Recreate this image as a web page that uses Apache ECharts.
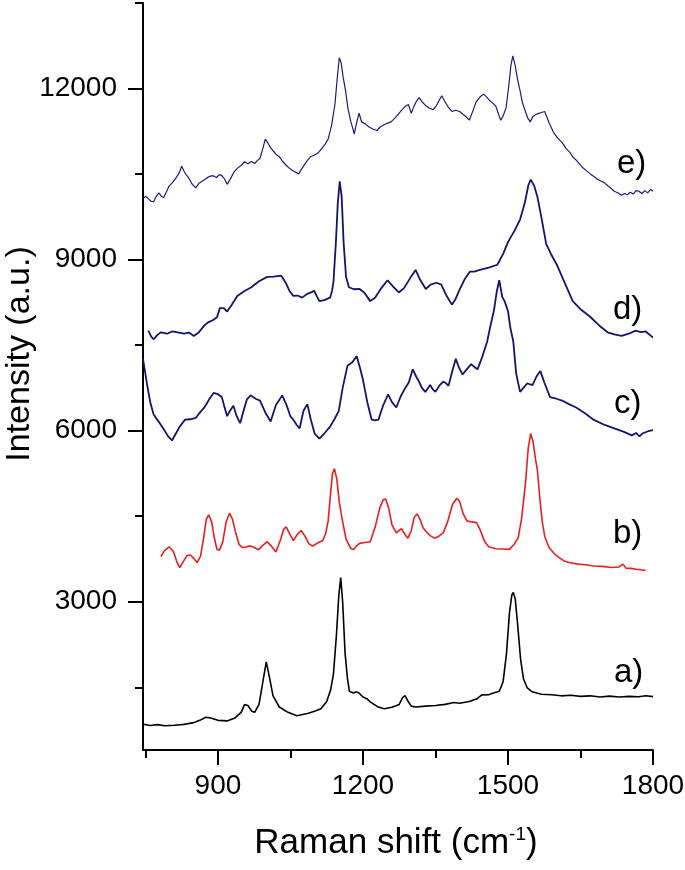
<!DOCTYPE html>
<html>
<head>
<meta charset="utf-8">
<script src="https://cdn.jsdelivr.net/npm/echarts@6/dist/echarts.min.js"></script>
<style>
html,body{margin:0;padding:0;background:#fff;}
#main{width:685px;height:870px;}
</style>
</head>
<body>
<div id="main"></div>
<script>
// ---- Data (Raman shift cm^-1, intensity a.u.) ----
var xMajorTicks = [900, 1200, 1500, 1800];
var xMinorTicks = [750, 1050, 1350, 1650];
var yMajorTicks = [3000, 6000, 9000, 12000];
var yMinorTicks = [1500, 4500, 7500, 10500, 13500];
var seriesNames = ['a)', 'b)', 'c)', 'd)', 'e)'];

var specA = [
  [745, 851], [760, 830], [775, 845], [790, 825], [810, 833], [830, 850], [850, 880], [865, 930],
  [875, 973], [885, 960], [900, 920], [919, 910], [935, 960], [948, 1060], [955, 1196], [962, 1180],
  [970, 1080], [976, 1060], [985, 1200], [993, 1600], [1000, 1945], [1006, 1700], [1014, 1350],
  [1027, 1154], [1045, 1060], [1063, 1001], [1085, 1040], [1100, 1080], [1113, 1122], [1125, 1250],
  [1133, 1450], [1139, 1732], [1145, 2400], [1150, 3100], [1154, 3425], [1158, 3000], [1163, 2100],
  [1168, 1650], [1172, 1429], [1180, 1400], [1187, 1420], [1192, 1397], [1200, 1330], [1208, 1300],
  [1215, 1245], [1230, 1160], [1244, 1122], [1260, 1150], [1275, 1200], [1282, 1320], [1287, 1353],
  [1293, 1260], [1300, 1170], [1309, 1154], [1330, 1170], [1350, 1180], [1370, 1200], [1388, 1233],
  [1400, 1220], [1420, 1250], [1436, 1300], [1446, 1366], [1460, 1370], [1470, 1400], [1482, 1429],
  [1490, 1600], [1497, 2100], [1503, 2800], [1508, 3120], [1511, 3162], [1515, 3050], [1520, 2600],
  [1526, 2000], [1532, 1650], [1540, 1488], [1550, 1420], [1569, 1378], [1590, 1370], [1610, 1350],
  [1630, 1360], [1650, 1340], [1670, 1350], [1690, 1330], [1710, 1345], [1730, 1330], [1750, 1340],
  [1770, 1335], [1785, 1350], [1800, 1336]
];

var specB = [
  [782, 3793], [790, 3900], [799, 3963], [808, 3880], [815, 3700], [821, 3597], [828, 3700],
  [836, 3810], [843, 3820], [850, 3760], [857, 3688], [864, 3800], [870, 4100], [876, 4450],
  [881, 4523], [887, 4400], [893, 4100], [898, 3920], [903, 3901], [910, 4050], [917, 4400],
  [924, 4553], [930, 4450], [937, 4200], [944, 4000], [951, 3950], [958, 3960], [966, 3980],
  [975, 3950], [984, 3913], [993, 3990], [1002, 4053], [1010, 3980], [1020, 3871], [1030, 4100],
  [1036, 4270], [1041, 4314], [1048, 4200], [1056, 4073], [1064, 4180], [1072, 4248], [1080, 4150],
  [1088, 4020], [1096, 3975], [1106, 4030], [1117, 4073], [1123, 4200], [1128, 4418], [1133, 4900],
  [1137, 5250], [1141, 5334], [1146, 5150], [1151, 4750], [1157, 4449], [1165, 4100], [1175, 3933],
  [1181, 3917], [1187, 3980], [1193, 4024], [1204, 4040], [1215, 4053], [1225, 4300], [1235, 4650],
  [1242, 4790], [1247, 4801], [1253, 4650], [1260, 4350], [1269, 4206], [1275, 4250], [1280, 4280],
  [1287, 4180], [1293, 4115], [1300, 4250], [1306, 4480], [1312, 4540], [1318, 4450], [1324, 4300],
  [1330, 4236], [1339, 4160], [1348, 4115], [1357, 4150], [1366, 4206], [1375, 4400], [1385, 4700],
  [1394, 4814], [1400, 4760], [1407, 4550], [1415, 4418], [1425, 4400], [1435, 4388], [1443, 4250],
  [1452, 4050], [1460, 3963], [1475, 3930], [1490, 3925], [1503, 3919], [1512, 4000], [1521, 4115],
  [1528, 4450], [1536, 5057], [1542, 5700], [1547, 5950], [1552, 5800], [1557, 5500], [1561, 5300],
  [1566, 4800], [1571, 4400], [1576, 4145], [1585, 3950], [1595, 3850], [1605, 3779], [1615, 3720],
  [1626, 3688], [1645, 3660], [1660, 3650], [1677, 3628], [1695, 3620], [1715, 3600], [1730, 3610],
  [1738, 3660], [1744, 3590], [1755, 3585], [1765, 3570], [1775, 3560], [1785, 3548]
];

var specC = [
  [745, 7260], [749, 7050], [753, 6832], [760, 6500], [767, 6284], [778, 6150], [789, 6011],
  [797, 5900], [805, 5828], [813, 5950], [821, 6071], [832, 6193], [843, 6200], [854, 6223],
  [863, 6320], [872, 6407], [882, 6550], [891, 6661], [900, 6640], [908, 6589], [914, 6400],
  [919, 6255], [925, 6350], [932, 6437], [939, 6250], [946, 6132], [953, 6350], [960, 6550],
  [968, 6619], [978, 6560], [987, 6528], [998, 6320], [1009, 6162], [1020, 6450], [1033, 6619],
  [1042, 6450], [1050, 6250], [1056, 6193], [1063, 6100], [1069, 6041], [1077, 6350], [1085, 6466],
  [1092, 6200], [1100, 5950], [1110, 5859], [1120, 5950], [1132, 6071], [1141, 6200], [1150, 6346],
  [1158, 6750], [1168, 7137], [1178, 7200], [1187, 7307], [1194, 7100], [1200, 6892], [1209, 6500],
  [1218, 6193], [1225, 6180], [1232, 6193], [1242, 6450], [1252, 6638], [1260, 6500], [1269, 6407],
  [1278, 6600], [1287, 6741], [1295, 6850], [1303, 7076], [1310, 6950], [1316, 6862], [1322, 6750],
  [1329, 6680], [1339, 6801], [1345, 6720], [1350, 6680], [1358, 6790], [1366, 6862], [1372, 6830],
  [1377, 6786], [1385, 7050], [1392, 7260], [1399, 7100], [1406, 6985], [1415, 7080], [1424, 7167],
  [1430, 7120], [1437, 7076], [1447, 7300], [1457, 7563], [1464, 7850], [1471, 8110], [1477, 8450],
  [1482, 8638], [1488, 8350], [1493, 8272], [1500, 8100], [1505, 7800], [1511, 7563], [1517, 7000],
  [1525, 6680], [1532, 6750], [1540, 6832], [1546, 6810], [1551, 6801], [1559, 6950], [1567, 7045],
  [1575, 6850], [1587, 6589], [1600, 6560], [1612, 6528], [1625, 6470], [1641, 6407], [1660, 6300],
  [1677, 6193], [1700, 6100], [1720, 6041], [1740, 5980], [1756, 5918], [1765, 5960], [1772, 5900],
  [1778, 5950], [1790, 5990], [1800, 6011]
];

var specD = [
  [756, 7755], [762, 7650], [767, 7603], [775, 7680], [782, 7725], [795, 7700], [805, 7740],
  [817, 7725], [830, 7700], [840, 7720], [850, 7662], [860, 7720], [872, 7846], [880, 7900],
  [890, 7941], [898, 7990], [904, 8149], [912, 8150], [919, 8088], [928, 8200], [940, 8363],
  [955, 8450], [969, 8515], [985, 8620], [1002, 8697], [1015, 8700], [1031, 8718], [1040, 8600],
  [1048, 8450], [1056, 8363], [1065, 8370], [1074, 8333], [1085, 8400], [1094, 8430], [1099, 8454],
  [1105, 8350], [1110, 8272], [1120, 8290], [1132, 8333], [1136, 8450], [1139, 8608], [1144, 9300],
  [1148, 10000], [1152, 10371], [1156, 10100], [1160, 9300], [1165, 8700], [1171, 8515], [1181, 8480],
  [1193, 8485], [1203, 8420], [1215, 8272], [1225, 8330], [1238, 8500], [1251, 8638], [1262, 8530],
  [1274, 8424], [1285, 8500], [1298, 8680], [1309, 8818], [1318, 8650], [1330, 8485], [1340, 8560],
  [1352, 8594], [1362, 8560], [1372, 8380], [1384, 8210], [1391, 8300], [1399, 8454], [1410, 8650],
  [1421, 8788], [1430, 8790], [1442, 8818], [1460, 8860], [1478, 8910], [1490, 9100], [1500, 9306],
  [1513, 9500], [1525, 9702], [1535, 10000], [1542, 10300], [1547, 10402], [1554, 10300],
  [1561, 10096], [1570, 9700], [1579, 9277], [1590, 9080], [1601, 8910], [1617, 8600], [1634, 8272],
  [1650, 8130], [1670, 7998], [1688, 7850], [1706, 7725], [1720, 7690], [1735, 7662], [1750, 7700],
  [1764, 7755], [1775, 7730], [1785, 7740], [1800, 7632]
];

var specE = [
  [745, 10077], [751, 10110], [757, 10060], [762, 10020], [767, 10016], [773, 10120], [778, 10170],
  [783, 10110], [788, 10090], [794, 10200], [799, 10289], [806, 10350], [814, 10441], [820, 10520],
  [825, 10637], [830, 10550], [835, 10480], [839, 10441], [846, 10330], [854, 10259], [861, 10340],
  [868, 10380], [875, 10420], [883, 10460], [890, 10472], [897, 10440], [903, 10490], [908, 10472],
  [914, 10410], [919, 10320], [926, 10420], [933, 10533], [940, 10600], [948, 10650], [955, 10716],
  [962, 10680], [969, 10720], [976, 10685], [982, 10740], [987, 10776], [993, 10950], [998, 11112],
  [1003, 11050], [1009, 10959], [1015, 10900], [1021, 10840], [1027, 10807], [1034, 10720],
  [1041, 10655], [1048, 10600], [1055, 10560], [1061, 10530], [1067, 10503], [1074, 10600],
  [1080, 10680], [1086, 10750], [1092, 10807], [1099, 10830], [1107, 10868], [1115, 10950],
  [1122, 11030], [1128, 11112], [1135, 11350], [1142, 11720], [1147, 12200], [1151, 12541],
  [1155, 12450], [1159, 12200], [1164, 11963], [1169, 11650], [1175, 11415], [1179, 11300],
  [1182, 11203], [1187, 11400], [1192, 11567], [1197, 11415], [1205, 11380], [1212, 11330],
  [1220, 11290], [1229, 11264], [1236, 11330], [1243, 11360], [1250, 11390], [1258, 11415],
  [1266, 11480], [1274, 11560], [1282, 11640], [1288, 11690], [1294, 11720], [1300, 11567],
  [1306, 11700], [1311, 11780], [1316, 11842], [1323, 11760], [1330, 11700], [1337, 11660],
  [1345, 11628], [1352, 11700], [1358, 11800], [1363, 11872], [1369, 11780], [1376, 11680],
  [1384, 11598], [1392, 11620], [1400, 11598], [1408, 11540], [1414, 11500], [1420, 11445],
  [1427, 11600], [1434, 11760], [1442, 11850], [1450, 11903], [1457, 11840], [1463, 11780],
  [1469, 11740], [1475, 11689], [1480, 11560], [1485, 11445], [1490, 11520], [1496, 11659],
  [1501, 12000], [1506, 12400], [1510, 12572], [1515, 12400], [1520, 12150], [1525, 11963],
  [1530, 11750], [1536, 11598], [1541, 11480], [1546, 11415], [1551, 11500], [1556, 11537],
  [1562, 11560], [1569, 11580], [1576, 11598], [1585, 11400], [1594, 11232], [1603, 11130],
  [1612, 11050], [1620, 10950], [1628, 10880], [1634, 10800], [1641, 10746], [1648, 10680],
  [1655, 10610], [1662, 10560], [1670, 10503], [1677, 10460], [1685, 10410], [1692, 10380],
  [1699, 10350], [1706, 10300], [1713, 10250], [1720, 10200], [1728, 10168], [1735, 10130],
  [1741, 10160], [1747, 10138], [1753, 10180], [1759, 10150], [1765, 10210], [1771, 10199],
  [1777, 10160], [1783, 10210], [1789, 10170], [1795, 10230], [1800, 10199]
];

// ---- Chart ----
var FONT = '"Liberation Sans", Arial, sans-serif';
var chart = echarts.init(document.getElementById('main'), null, {renderer: 'canvas'});

function lineSeries(name, data, color, width) {
  return {
    name: name, type: 'line', data: data, xAxisIndex: 0, yAxisIndex: 0,
    showSymbol: false, symbol: 'none', smooth: false, sampling: null,
    lineStyle: {color: color, width: width}, itemStyle: {color: color},
    silent: true, z: 3
  };
}

function plainNum(v) { return String(v); }
var axisLineStyle = {color: '#000', width: 2};

var option = {
  animation: false,
  backgroundColor: '#fff',
  grid: {left: 143, right: 32, top: 3, bottom: 120, containLabel: false, outerBoundsMode: 'none'},
  xAxis: [
    {
      type: 'value', min: 745, max: 1800, position: 'bottom',
      axisLine: {show: true, onZero: false, lineStyle: axisLineStyle},
      axisTick: {show: true, inside: false, length: 15, lineStyle: axisLineStyle, customValues: xMajorTicks},
      axisLabel: {show: true, margin: 22, color: '#000', fontFamily: FONT, fontSize: 28, customValues: xMajorTicks, formatter: plainNum},
      splitLine: {show: false}
    },
    {
      type: 'value', min: 745, max: 1800, position: 'bottom', gridIndex: 0,
      axisLine: {show: false, onZero: false},
      axisTick: {show: true, inside: false, length: 8, lineStyle: axisLineStyle, customValues: xMinorTicks},
      axisLabel: {show: false},
      splitLine: {show: false}
    }
  ],
  yAxis: [
    {
      type: 'value', min: 400, max: 13500, position: 'left',
      axisLine: {show: true, onZero: false, lineStyle: axisLineStyle},
      axisTick: {show: true, inside: false, length: 15, lineStyle: axisLineStyle, customValues: yMajorTicks},
      axisLabel: {show: true, margin: 26, color: '#000', fontFamily: FONT, fontSize: 28, customValues: yMajorTicks, formatter: plainNum},
      splitLine: {show: false}
    },
    {
      type: 'value', min: 400, max: 13500, position: 'left', gridIndex: 0,
      axisLine: {show: false, onZero: false},
      axisTick: {show: true, inside: false, length: 8, lineStyle: axisLineStyle, customValues: yMinorTicks},
      axisLabel: {show: false},
      splitLine: {show: false}
    }
  ],
  series: [
    lineSeries(seriesNames[0], specA, '#000000', 1.6),
    lineSeries(seriesNames[1], specB, '#ee1c1c', 1.6),
    lineSeries(seriesNames[2], specC, '#141470', 1.8),
    lineSeries(seriesNames[3], specD, '#141470', 1.8),
    lineSeries(seriesNames[4], specE, '#1c1c80', 1.2)
  ],
  graphic: [
    {type: 'text', x: 614, y: 673, style: {text: seriesNames[0], font: '33px ' + FONT, fill: '#000', verticalAlign: 'middle'}},
    {type: 'text', x: 613, y: 534, style: {text: seriesNames[1], font: '33px ' + FONT, fill: '#000', verticalAlign: 'middle'}},
    {type: 'text', x: 614, y: 404, style: {text: seriesNames[2], font: '33px ' + FONT, fill: '#000', verticalAlign: 'middle'}},
    {type: 'text', x: 613, y: 310, style: {text: seriesNames[3], font: '33px ' + FONT, fill: '#000', verticalAlign: 'middle'}},
    {type: 'text', x: 617, y: 164, style: {text: seriesNames[4], font: '33px ' + FONT, fill: '#000', verticalAlign: 'middle'}},
    {
      type: 'text', x: 396, y: 843,
      style: {
        text: '{m|Raman shift (cm}{s|-1}{m|)}',
        align: 'center', verticalAlign: 'middle',
        rich: {
          m: {font: '35px ' + FONT, fill: '#000', fontSize: 35, fontFamily: FONT},
          s: {font: '19px ' + FONT, fill: '#000', fontSize: 19, fontFamily: FONT, verticalAlign: 'top'}
        }
      }
    },
    {
      type: 'text', x: 20, y: 354, rotation: Math.PI / 2,
      style: {text: 'Intensity (a.u.)', font: '34px ' + FONT, fill: '#000', align: 'center', verticalAlign: 'middle'}
    }
  ]
};
chart.setOption(option);
</script>
</body>
</html>
